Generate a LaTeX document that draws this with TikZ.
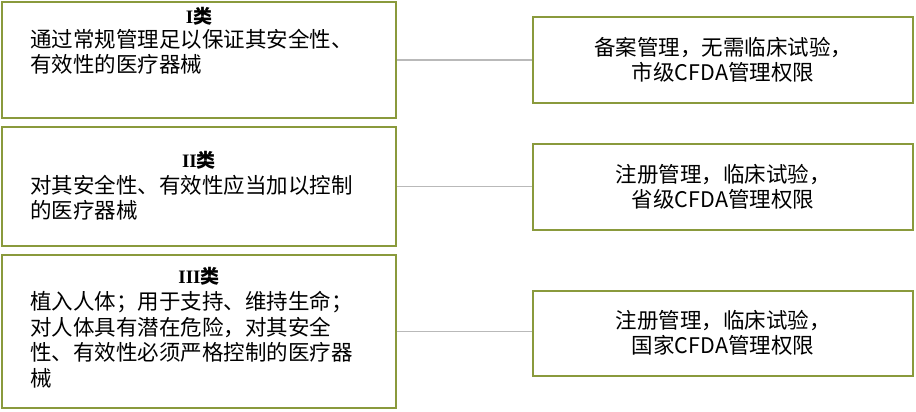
\documentclass[tikz,border=0pt]{standalone}
\usepackage{fontspec}
\setmainfont{Noto Sans CJK SC}
\newfontfamily\romfont{Liberation Serif}
\definecolor{boxgreen}{HTML}{8A9A3C}
\begin{document}
\begin{tikzpicture}[x=1pt,y=-1pt,
    every node/.style={font=\fontsize{21.5}{25.5}\selectfont},
    catbox/.style={draw=boxgreen, line width=2pt, rectangle, inner sep=0pt},
    rulebox/.style={catbox, align=center},
    catname/.style={font=\fontsize{19}{21}\bfseries, inner sep=0pt},
    link/.style={draw=gray!55, line width=1.2pt}]
    \useasboundingbox (0,0) rectangle (916,412);
    % left boxes: category
    \node[catbox, minimum width=394, minimum height=116] (c1) at (199,60) {};
    \node[catbox, minimum width=394, minimum height=119] (c2) at (199,186.5) {};
    \node[catbox, minimum width=394, minimum height=153] (c3) at (199,331.5) {};
    \node[catname] (t1) at (199,16) {{\romfont I}类};
    \node[catname] (t2) at (199,160) {{\romfont II}类};
    \node[catname] (t3) at (199,276) {{\romfont III}类};
    \node[anchor=north west, align=left, inner sep=0pt] (d1) at (30,29) {通过常规管理足以保证其安全性、\\有效性的医疗器械};
    \node[anchor=north west, align=left, inner sep=0pt] (d2) at (30,175) {对其安全性、有效性应当加以控制\\的医疗器械};
    \node[anchor=north west, align=left, inner sep=0pt] (d3) at (30,291) {植入人体；用于支持、维持生命；\\对人体具有潜在危险，对其安全\\性、有效性必须严格控制的医疗器\\械};
    % right boxes: management
    \node[rulebox, minimum width=380, minimum height=86] (m1) at (723,60) {备案管理，无需临床试验，\\市级CFDA管理权限};
    \node[rulebox, minimum width=380, minimum height=86] (m2) at (723,187) {注册管理，临床试验，\\省级CFDA管理权限};
    \node[rulebox, minimum width=380, minimum height=85] (m3) at (723,333) {注册管理，临床试验，\\国家CFDA管理权限};
    \foreach \i in {1,2,3}
        \draw[link] (c\i.east) -- (c\i.east -| m\i.west);
\end{tikzpicture}
\end{document}
